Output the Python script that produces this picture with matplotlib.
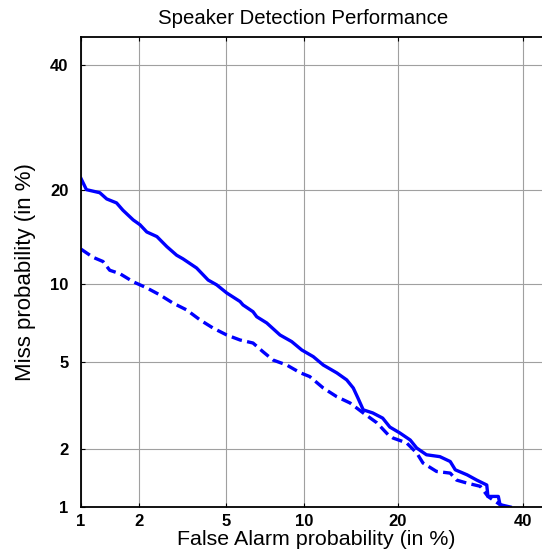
import numpy as np
import matplotlib
matplotlib.use("Agg")
import matplotlib.pyplot as plt
from statistics import NormalDist

# ---- data (percent) ----
solid_fa = [1.0, 1.07, 1.26, 1.37, 1.54, 1.66, 1.87, 2.02, 2.18, 2.44, 2.72, 3.02, 3.23, 3.72,
            4.18, 4.55, 5.02, 5.7, 5.86, 6.43, 6.65, 7.28, 8.18, 9.04, 9.84, 10.8, 11.7, 13.0,
            14.0, 14.7, 15.2, 15.8, 16.9, 18.1, 19.0, 20.3, 21.7, 22.6, 24.0, 26.0, 27.6, 28.4,
            30.3, 31.9, 33.6, 33.8, 35.6, 35.9, 37.7]
solid_miss = [21.6, 20.1, 19.7, 18.9, 18.4, 17.5, 16.35, 15.8, 15.0, 14.5, 13.45, 12.6, 12.25, 11.4,
              10.35, 9.95, 9.3, 8.65, 8.4, 7.92, 7.58, 7.17, 6.43, 6.05, 5.59, 5.25, 4.84, 4.48,
              4.18, 3.85, 3.48, 3.07, 2.97, 2.81, 2.55, 2.39, 2.21, 2.02, 1.87, 1.83, 1.73, 1.57,
              1.48, 1.39, 1.31, 1.14, 1.14, 1.03, 1.0]

dash_fa = [1.0, 1.16, 1.31, 1.42, 1.6, 1.87, 2.18, 2.52, 2.9, 3.36, 3.85, 4.39, 5.02, 5.7,
           6.43, 7.04, 7.7, 8.67, 9.7, 10.5, 11.7, 13.0, 14.35, 15.8, 17.4, 18.8, 19.4, 21.2,
           22.6, 23.5, 25.5, 27.6, 28.6, 30.3, 32.5, 33.8, 35.9, 36.8]
dash_miss = [13.2, 12.4, 12.0, 11.2, 10.9, 10.2, 9.7, 9.15, 8.54, 8.04, 7.37, 6.85, 6.43, 6.14,
             5.97, 5.5, 5.08, 4.84, 4.49, 4.32, 3.85, 3.52, 3.3, 2.97, 2.67, 2.34, 2.26, 2.14,
             1.91, 1.70, 1.54, 1.51, 1.39, 1.34, 1.29, 1.14, 1.03, 1.0]

tick_vals = [1, 2, 5, 10, 20, 40]
tick_labels = ["1", "2", "5", "10", "20", "40"]
lim = (1.0, 45.14)

_nd = NormalDist()

def fwd(p):
    p = np.clip(np.asarray(p, dtype=float) / 100.0, 1e-9, 1 - 1e-9)
    return np.vectorize(_nd.inv_cdf, otypes=[float])(p)

def inv(z):
    z = np.asarray(z, dtype=float)
    return np.vectorize(_nd.cdf, otypes=[float])(z) * 100.0

plt.rcParams['font.family'] = ['Liberation Sans', 'DejaVu Sans']

fig = plt.figure(figsize=(5.42, 5.57), dpi=100)
ax = fig.add_axes([81/542, 50/557, 470/542, 470/557])
ax.set_xscale('function', functions=(fwd, inv))
ax.set_yscale('function', functions=(fwd, inv))
ax.set_xlim(*lim)
ax.set_ylim(*lim)

ax.plot(solid_fa, solid_miss, color='#0000ff', lw=2.4, solid_joinstyle='round')
ax.plot(dash_fa, dash_miss, color='#0000ff', lw=2.4, linestyle=(0, (3.2, 1.6)))

ax.set_xticks(tick_vals)
ax.set_xticklabels(tick_labels, fontweight='bold', fontsize=12)
ax.set_yticks(tick_vals)
ax.set_yticklabels(tick_labels, fontweight='bold', fontsize=12)
ax.minorticks_off()
ax.tick_params(axis='y', direction='in', length=3, width=0.8, right=True, pad=9)
ax.tick_params(axis='x', direction='in', length=3, width=0.8, top=True, pad=5)
ax.grid(True, color='#a0a0a0', lw=0.8)
for s in ax.spines.values():
    s.set_linewidth(1.3)

ax.set_xlabel("False Alarm probability (in %)", fontsize=15.4, labelpad=1)
ax.set_ylabel("Miss probability (in %)", fontsize=16, labelpad=10)
ax.set_title("Speaker Detection Performance", fontsize=14.7, x=0.473, pad=9)

fig.savefig("out.png", dpi=100)
